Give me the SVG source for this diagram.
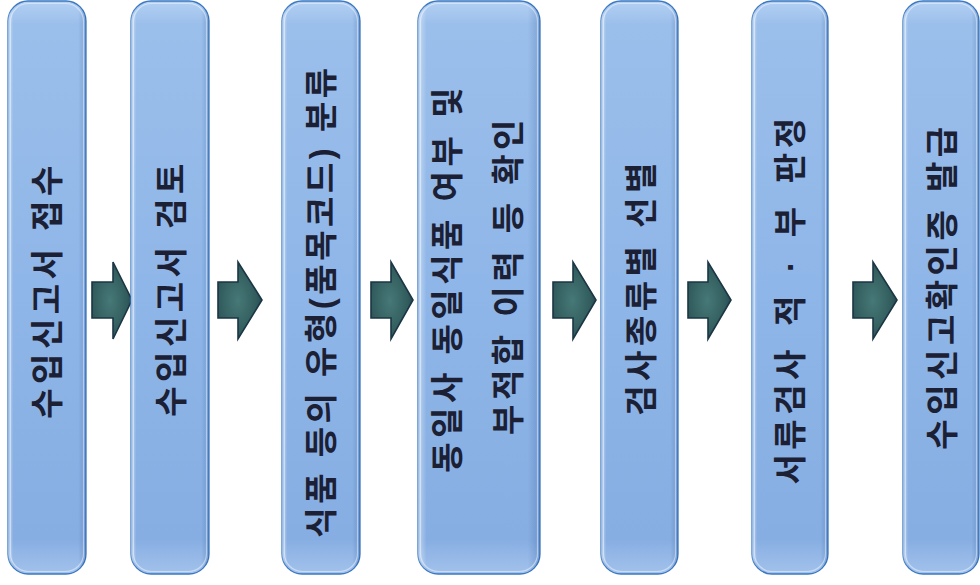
<svg xmlns="http://www.w3.org/2000/svg" width="980" height="585" viewBox="0 0 980 585">
<defs>
<linearGradient id="bgV" x1="0" y1="0" x2="0" y2="1">
<stop offset="0" stop-color="#b4d0f3"/>
<stop offset="0.04" stop-color="#9bbfeb"/>
<stop offset="0.5" stop-color="#8fb6e8"/>
<stop offset="0.94" stop-color="#87aee2"/>
<stop offset="1" stop-color="#a3c2ec"/>
</linearGradient>
<linearGradient id="bgH" x1="0" y1="0" x2="1" y2="0">
<stop offset="0" stop-color="#ffffff" stop-opacity="0.45"/>
<stop offset="0.07" stop-color="#ffffff" stop-opacity="0"/>
<stop offset="0.9" stop-color="#0a3a80" stop-opacity="0"/>
<stop offset="1" stop-color="#0a3a80" stop-opacity="0.22"/>
</linearGradient>
<radialGradient id="arr" cx="0.45" cy="0.5" r="0.6">
<stop offset="0" stop-color="#467977"/>
<stop offset="0.7" stop-color="#325c5d"/>
<stop offset="1" stop-color="#224452"/>
</radialGradient>
<style>
.box{fill:url(#bgV);stroke:#3a78c0;stroke-width:1.3}
.shade{fill:url(#bgH);stroke:none}
.hl{fill:none;stroke:#ffffff;stroke-opacity:0.45;stroke-width:1.2}
.lbl{font-family:"Liberation Sans","Noto Sans CJK KR",sans-serif;font-weight:700;font-size:33px;letter-spacing:4.5px;fill:#1b2034;text-anchor:middle}
.tight{letter-spacing:3.5px}
.wide{word-spacing:5.5px}
.arrow{fill:url(#arr);stroke:#1b3644;stroke-width:1.6;stroke-linejoin:miter}
</style>
</defs>
<rect width="980" height="585" fill="#ffffff"/>

<g id="connectors">
<path class="arrow" d="M92,282 L113,282 L113,262 L132,300 L113,339 L113,318 L92,318 Z"/>
<path class="arrow" d="M218,282 L238,282 L238,262 L262,300 L238,339 L238,318 L218,318 Z"/>
<path class="arrow" d="M371,282 L391,282 L391,262 L413,300 L391,339 L391,318 L371,318 Z"/>
<path class="arrow" d="M553,282 L573,282 L573,262 L596,300 L573,339 L573,318 L553,318 Z"/>
<path class="arrow" d="M688,282 L708,282 L708,262 L731,300 L708,339 L708,318 L688,318 Z"/>
<path class="arrow" d="M853,282 L873,282 L873,262 L897,300 L873,339 L873,318 L853,318 Z"/>
</g>

<g id="n1">
<rect class="box" x="8" y="1" width="78" height="573" rx="20"/>
<rect class="shade" x="8" y="1" width="78" height="573" rx="20"/>
<rect class="hl" x="10.5" y="3.5" width="73" height="568" rx="18"/>
<text class="lbl" transform="translate(59,290) rotate(-90)">수입신고서 접수</text>
</g>

<g id="n2">
<rect class="box" x="131" y="1" width="78" height="573" rx="20"/>
<rect class="shade" x="131" y="1" width="78" height="573" rx="20"/>
<rect class="hl" x="133.5" y="3.5" width="73" height="568" rx="18"/>
<text class="lbl" transform="translate(182.5,288) rotate(-90)">수입신고서 검토</text>
</g>

<g id="n3">
<rect class="box" x="282" y="1" width="78" height="573" rx="20"/>
<rect class="shade" x="282" y="1" width="78" height="573" rx="20"/>
<rect class="hl" x="284.5" y="3.5" width="73" height="568" rx="18"/>
<text class="lbl tight" transform="translate(333,301) rotate(-90)">식품 등의 유형(품목코드) 분류</text>
</g>

<g id="n4">
<rect class="box" x="418" y="1" width="122" height="573" rx="20"/>
<rect class="shade" x="418" y="1" width="122" height="573" rx="20"/>
<rect class="hl" x="420.5" y="3.5" width="117" height="568" rx="18"/>
<text class="lbl" transform="translate(459,278) rotate(-90)">동일사 동일식품 여부 및</text>
<text class="lbl" transform="translate(520,275) rotate(-90)">부적합 이력 등 확인</text>
</g>

<g id="n5">
<rect class="box" x="601" y="1" width="77" height="573" rx="20"/>
<rect class="shade" x="601" y="1" width="77" height="573" rx="20"/>
<rect class="hl" x="603.5" y="3.5" width="72" height="568" rx="18"/>
<text class="lbl" transform="translate(652.5,287) rotate(-90)">검사종류별 선별</text>
</g>

<g id="n6">
<rect class="box" x="752" y="1" width="76" height="573" rx="20"/>
<rect class="shade" x="752" y="1" width="76" height="573" rx="20"/>
<rect class="hl" x="754.5" y="3.5" width="71" height="568" rx="18"/>
<text class="lbl wide" transform="translate(802,299) rotate(-90)">서류검사 적 · 부 판정</text>
</g>

<g id="n7">
<rect class="box" x="903" y="1" width="76" height="573" rx="20"/>
<rect class="shade" x="903" y="1" width="76" height="573" rx="20"/>
<rect class="hl" x="905.5" y="3.5" width="71" height="568" rx="18"/>
<text class="lbl" transform="translate(953.5,286) rotate(-90)">수입신고확인증 발급</text>
</g>
</svg>
